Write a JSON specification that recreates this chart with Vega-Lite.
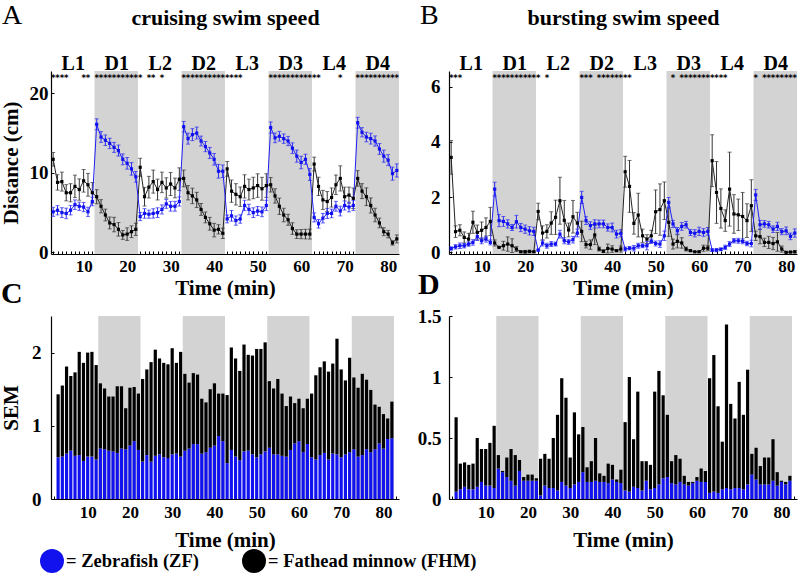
{
"$schema":"https://vega.github.io/schema/vega-lite/v6.json",
"background":"white",
"padding":{"left":0,"top":2,"right":0,"bottom":0},
"datasets":{
"periods":[{"start":12.5,"end":22.5},{"start":32.5,"end":42.5},{"start":52.5,"end":62.5},{"start":72.5,"end":82.5}],
"starsA":[{"t":3},{"t":4},{"t":5},{"t":6},{"t":10},{"t":11},{"t":13},{"t":14},{"t":15},{"t":16},{"t":17},{"t":18},{"t":19},{"t":20},{"t":21},{"t":22},{"t":23},{"t":25},{"t":26},{"t":28},{"t":33},{"t":34},{"t":35},{"t":36},{"t":37},{"t":38},{"t":39},{"t":40},{"t":41},{"t":42},{"t":43},{"t":44},{"t":45},{"t":46},{"t":53},{"t":54},{"t":55},{"t":56},{"t":57},{"t":58},{"t":59},{"t":60},{"t":61},{"t":62},{"t":63},{"t":64},{"t":69},{"t":73},{"t":74},{"t":75},{"t":76},{"t":77},{"t":78},{"t":79},{"t":80},{"t":81},{"t":82}],
"starsB":[{"t":3},{"t":4},{"t":5},{"t":13},{"t":14},{"t":15},{"t":16},{"t":17},{"t":18},{"t":19},{"t":20},{"t":21},{"t":22},{"t":23},{"t":25},{"t":33},{"t":34},{"t":35},{"t":37},{"t":38},{"t":39},{"t":40},{"t":41},{"t":42},{"t":43},{"t":44},{"t":54},{"t":56},{"t":57},{"t":58},{"t":59},{"t":60},{"t":61},{"t":62},{"t":63},{"t":64},{"t":65},{"t":66},{"t":73},{"t":75},{"t":76},{"t":77},{"t":78},{"t":79},{"t":80},{"t":81},{"t":82}],
"cruise":[
{"t":3,"zf":5.1,"zfe":0.57,"fhm":11.7,"fhme":0.86},
{"t":4,"zf":5.3,"zfe":0.58,"fhm":8.8,"fhme":0.97},
{"t":5,"zf":5.0,"zfe":0.62,"fhm":8.9,"fhme":1.19},
{"t":6,"zf":4.9,"zfe":0.66,"fhm":7.5,"fhme":1.02},
{"t":7,"zf":5.3,"zfe":0.59,"fhm":7.5,"fhme":1.14},
{"t":8,"zf":6.0,"zfe":0.60,"fhm":8.3,"fhme":1.41},
{"t":9,"zf":5.8,"zfe":0.52,"fhm":7.9,"fhme":1.34},
{"t":10,"zf":5.7,"zfe":0.58,"fhm":9.0,"fhme":1.42},
{"t":11,"zf":5.1,"zfe":0.58,"fhm":8.5,"fhme":1.43},
{"t":12,"zf":6.4,"zfe":0.54,"fhm":7.5,"fhme":1.29},
{"t":13,"zf":16.1,"zfe":0.69,"fhm":7.0,"fhme":0.89},
{"t":14,"zf":14.5,"zfe":0.68,"fhm":5.8,"fhme":0.83},
{"t":15,"zf":14.1,"zfe":0.66,"fhm":4.7,"fhme":0.74},
{"t":16,"zf":13.7,"zfe":0.65,"fhm":3.7,"fhme":0.75},
{"t":17,"zf":13.2,"zfe":0.63,"fhm":3.5,"fhme":0.91},
{"t":18,"zf":12.8,"zfe":0.69,"fhm":2.9,"fhme":0.85},
{"t":19,"zf":11.7,"zfe":0.68,"fhm":2.2,"fhme":0.56},
{"t":20,"zf":11.2,"zfe":0.73,"fhm":2.3,"fhme":0.79},
{"t":21,"zf":10.5,"zfe":0.79,"fhm":2.6,"fhme":0.74},
{"t":22,"zf":9.5,"zfe":0.67,"fhm":2.9,"fhme":0.77},
{"t":23,"zf":4.5,"zfe":0.51,"fhm":10.7,"fhme":1.13},
{"t":24,"zf":4.9,"zfe":0.60,"fhm":7.0,"fhme":1.17},
{"t":25,"zf":4.8,"zfe":0.51,"fhm":8.2,"fhme":1.36},
{"t":26,"zf":4.9,"zfe":0.59,"fhm":8.9,"fhme":1.45},
{"t":27,"zf":5.0,"zfe":0.61,"fhm":7.9,"fhme":1.31},
{"t":28,"zf":5.4,"zfe":0.57,"fhm":8.8,"fhme":1.29},
{"t":29,"zf":6.1,"zfe":0.56,"fhm":8.1,"fhme":1.28},
{"t":30,"zf":5.8,"zfe":0.61,"fhm":8.6,"fhme":1.45},
{"t":31,"zf":5.8,"zfe":0.62,"fhm":8.1,"fhme":1.24},
{"t":32,"zf":6.4,"zfe":0.58,"fhm":9.2,"fhme":1.43},
{"t":33,"zf":15.8,"zfe":0.66,"fhm":9.3,"fhme":1.05},
{"t":34,"zf":14.3,"zfe":0.69,"fhm":7.5,"fhme":0.90},
{"t":35,"zf":14.8,"zfe":0.75,"fhm":7.1,"fhme":0.97},
{"t":36,"zf":15.0,"zfe":0.75,"fhm":6.6,"fhme":0.95},
{"t":37,"zf":14.0,"zfe":0.62,"fhm":5.4,"fhme":0.75},
{"t":38,"zf":13.3,"zfe":0.64,"fhm":4.4,"fhme":0.68},
{"t":39,"zf":12.5,"zfe":0.70,"fhm":3.6,"fhme":0.80},
{"t":40,"zf":11.7,"zfe":0.73,"fhm":2.8,"fhme":0.85},
{"t":41,"zf":10.2,"zfe":0.86,"fhm":2.9,"fhme":0.58},
{"t":42,"zf":10.2,"zfe":0.79,"fhm":2.4,"fhme":0.65},
{"t":43,"zf":4.2,"zfe":0.49,"fhm":10.5,"fhme":0.93},
{"t":44,"zf":4.6,"zfe":0.67,"fhm":7.7,"fhme":1.40},
{"t":45,"zf":4.0,"zfe":0.58,"fhm":7.3,"fhme":1.34},
{"t":46,"zf":4.2,"zfe":0.53,"fhm":7.0,"fhme":1.22},
{"t":47,"zf":5.9,"zfe":0.65,"fhm":8.3,"fhme":1.46},
{"t":48,"zf":5.4,"zfe":0.66,"fhm":7.9,"fhme":1.31},
{"t":49,"zf":5.0,"zfe":0.61,"fhm":8.1,"fhme":1.35},
{"t":50,"zf":5.2,"zfe":0.57,"fhm":8.4,"fhme":1.48},
{"t":51,"zf":5.1,"zfe":0.61,"fhm":8.0,"fhme":1.44},
{"t":52,"zf":5.9,"zfe":0.65,"fhm":8.4,"fhme":1.49},
{"t":53,"zf":15.7,"zfe":0.70,"fhm":8.5,"fhme":0.91},
{"t":54,"zf":14.4,"zfe":0.61,"fhm":7.1,"fhme":0.90},
{"t":55,"zf":14.6,"zfe":0.61,"fhm":5.8,"fhme":1.03},
{"t":56,"zf":14.3,"zfe":0.59,"fhm":4.7,"fhme":0.85},
{"t":57,"zf":14.0,"zfe":0.58,"fhm":4.1,"fhme":0.69},
{"t":58,"zf":13.1,"zfe":0.67,"fhm":3.0,"fhme":0.73},
{"t":59,"zf":12.1,"zfe":0.76,"fhm":2.3,"fhme":0.55},
{"t":60,"zf":11.3,"zfe":0.79,"fhm":2.3,"fhme":0.58},
{"t":61,"zf":11.7,"zfe":0.64,"fhm":2.3,"fhme":0.60},
{"t":62,"zf":9.8,"zfe":0.75,"fhm":2.3,"fhme":0.62},
{"t":63,"zf":4.4,"zfe":0.57,"fhm":11.1,"fhme":0.87},
{"t":64,"zf":3.6,"zfe":0.54,"fhm":8.3,"fhme":1.15},
{"t":65,"zf":4.3,"zfe":0.60,"fhm":6.6,"fhme":1.20},
{"t":66,"zf":4.9,"zfe":0.63,"fhm":6.4,"fhme":1.25},
{"t":67,"zf":4.9,"zfe":0.54,"fhm":6.9,"fhme":1.20},
{"t":68,"zf":5.8,"zfe":0.62,"fhm":8.5,"fhme":1.23},
{"t":69,"zf":5.2,"zfe":0.61,"fhm":9.3,"fhme":1.58},
{"t":70,"zf":5.9,"zfe":0.57,"fhm":7.0,"fhme":1.20},
{"t":71,"zf":5.7,"zfe":0.61,"fhm":7.2,"fhme":1.01},
{"t":72,"zf":5.9,"zfe":0.64,"fhm":6.8,"fhme":1.29},
{"t":73,"zf":16.3,"zfe":0.68,"fhm":9.3,"fhme":0.98},
{"t":74,"zf":15.1,"zfe":0.58,"fhm":7.7,"fhme":0.94},
{"t":75,"zf":14.5,"zfe":0.60,"fhm":7.0,"fhme":1.11},
{"t":76,"zf":14.3,"zfe":0.68,"fhm":5.9,"fhme":0.95},
{"t":77,"zf":14.0,"zfe":0.64,"fhm":4.7,"fhme":0.85},
{"t":78,"zf":13.0,"zfe":0.68,"fhm":3.7,"fhme":0.61},
{"t":79,"zf":12.1,"zfe":0.76,"fhm":2.6,"fhme":0.50},
{"t":80,"zf":11.6,"zfe":0.69,"fhm":2.3,"fhme":0.47},
{"t":81,"zf":9.9,"zfe":0.82,"fhm":1.2,"fhme":0.28},
{"t":82,"zf":10.3,"zfe":0.83,"fhm":1.7,"fhme":0.50}
],
"burst":[
{"t":3,"zf":0.14,"zfe":0.06,"fhm":3.44,"fhme":0.61},
{"t":4,"zf":0.20,"zfe":0.08,"fhm":0.75,"fhme":0.21},
{"t":5,"zf":0.24,"zfe":0.10,"fhm":0.80,"fhme":0.20},
{"t":6,"zf":0.24,"zfe":0.08,"fhm":0.54,"fhme":0.20},
{"t":7,"zf":0.30,"zfe":0.08,"fhm":0.48,"fhme":0.21},
{"t":8,"zf":0.36,"zfe":0.10,"fhm":1.09,"fhme":0.40},
{"t":9,"zf":0.57,"zfe":0.14,"fhm":0.72,"fhme":0.27},
{"t":10,"zf":0.42,"zfe":0.11,"fhm":0.80,"fhme":0.30},
{"t":11,"zf":0.48,"zfe":0.11,"fhm":0.90,"fhme":0.35},
{"t":12,"zf":0.36,"zfe":0.09,"fhm":1.12,"fhme":0.51},
{"t":13,"zf":2.29,"zfe":0.25,"fhm":0.34,"fhme":0.11},
{"t":14,"zf":1.15,"zfe":0.22,"fhm":0.18,"fhme":0.01},
{"t":15,"zf":1.12,"zfe":0.18,"fhm":0.24,"fhme":0.16},
{"t":16,"zf":1.03,"zfe":0.15,"fhm":0.30,"fhme":0.26},
{"t":17,"zf":0.90,"zfe":0.11,"fhm":0.24,"fhme":0.25},
{"t":18,"zf":1.11,"zfe":0.23,"fhm":0.12,"fhme":0.09},
{"t":19,"zf":0.90,"zfe":0.15,"fhm":0.02,"fhme":0.03},
{"t":20,"zf":0.84,"zfe":0.15,"fhm":0.02,"fhme":0.05},
{"t":21,"zf":0.78,"zfe":0.15,"fhm":0.03,"fhme":0.05},
{"t":22,"zf":0.76,"zfe":0.15,"fhm":0.02,"fhme":0.02},
{"t":23,"zf":0.08,"zfe":0.03,"fhm":1.48,"fhme":0.30},
{"t":24,"zf":0.34,"zfe":0.11,"fhm":0.70,"fhme":0.26},
{"t":25,"zf":0.24,"zfe":0.09,"fhm":0.76,"fhme":0.24},
{"t":26,"zf":0.30,"zfe":0.09,"fhm":1.06,"fhme":0.41},
{"t":27,"zf":0.30,"zfe":0.07,"fhm":1.27,"fhme":0.62},
{"t":28,"zf":0.66,"zfe":0.14,"fhm":1.87,"fhme":0.85},
{"t":29,"zf":0.42,"zfe":0.11,"fhm":1.16,"fhme":0.72},
{"t":30,"zf":0.38,"zfe":0.09,"fhm":0.81,"fhme":0.25},
{"t":31,"zf":0.46,"zfe":0.12,"fhm":1.29,"fhme":0.59},
{"t":32,"zf":0.70,"zfe":0.14,"fhm":1.06,"fhme":0.39},
{"t":33,"zf":1.99,"zfe":0.22,"fhm":0.76,"fhme":0.37},
{"t":34,"zf":1.15,"zfe":0.14,"fhm":0.28,"fhme":0.12},
{"t":35,"zf":0.97,"zfe":0.14,"fhm":0.28,"fhme":0.17},
{"t":36,"zf":1.03,"zfe":0.15,"fhm":0.63,"fhme":0.35},
{"t":37,"zf":1.03,"zfe":0.14,"fhm":0.12,"fhme":0.07},
{"t":38,"zf":1.03,"zfe":0.14,"fhm":0.04,"fhme":0.05},
{"t":39,"zf":0.90,"zfe":0.13,"fhm":0.14,"fhme":0.16},
{"t":40,"zf":0.90,"zfe":0.16,"fhm":0.12,"fhme":0.12},
{"t":41,"zf":0.66,"zfe":0.14,"fhm":0.06,"fhme":0.02},
{"t":42,"zf":0.69,"zfe":0.13,"fhm":0.12,"fhme":0.11},
{"t":43,"zf":0.12,"zfe":0.07,"fhm":2.92,"fhme":0.56},
{"t":44,"zf":0.15,"zfe":0.06,"fhm":2.39,"fhme":0.94},
{"t":45,"zf":0.15,"zfe":0.10,"fhm":1.05,"fhme":0.39},
{"t":46,"zf":0.24,"zfe":0.09,"fhm":1.35,"fhme":0.79},
{"t":47,"zf":0.24,"zfe":0.07,"fhm":0.60,"fhme":0.24},
{"t":48,"zf":0.24,"zfe":0.15,"fhm":0.48,"fhme":0.16},
{"t":49,"zf":0.40,"zfe":0.08,"fhm":0.60,"fhme":0.20},
{"t":50,"zf":0.32,"zfe":0.09,"fhm":1.47,"fhme":0.79},
{"t":51,"zf":0.30,"zfe":0.12,"fhm":1.55,"fhme":0.93},
{"t":52,"zf":0.60,"zfe":0.17,"fhm":1.87,"fhme":0.68},
{"t":53,"zf":1.81,"zfe":0.18,"fhm":1.09,"fhme":0.51},
{"t":54,"zf":1.03,"zfe":0.13,"fhm":0.30,"fhme":0.18},
{"t":55,"zf":0.78,"zfe":0.12,"fhm":0.40,"fhme":0.24},
{"t":56,"zf":0.94,"zfe":0.14,"fhm":0.34,"fhme":0.19},
{"t":57,"zf":1.00,"zfe":0.12,"fhm":0.12,"fhme":0.07},
{"t":58,"zf":0.72,"zfe":0.11,"fhm":0.06,"fhme":0.03},
{"t":59,"zf":0.69,"zfe":0.13,"fhm":0.02,"fhme":0.01},
{"t":60,"zf":0.76,"zfe":0.15,"fhm":0.02,"fhme":0.03},
{"t":61,"zf":0.72,"zfe":0.14,"fhm":0.15,"fhme":0.11},
{"t":62,"zf":0.76,"zfe":0.14,"fhm":0.15,"fhme":0.09},
{"t":63,"zf":0.08,"zfe":0.05,"fhm":3.32,"fhme":0.94},
{"t":64,"zf":0.08,"zfe":0.06,"fhm":2.17,"fhme":1.12},
{"t":65,"zf":0.11,"zfe":0.05,"fhm":1.59,"fhme":0.71},
{"t":66,"zf":0.18,"zfe":0.08,"fhm":1.15,"fhme":0.39},
{"t":67,"zf":0.30,"zfe":0.09,"fhm":2.29,"fhme":1.34},
{"t":68,"zf":0.42,"zfe":0.08,"fhm":1.39,"fhme":0.70},
{"t":69,"zf":0.42,"zfe":0.09,"fhm":1.36,"fhme":0.57},
{"t":70,"zf":0.40,"zfe":0.09,"fhm":1.30,"fhme":0.87},
{"t":71,"zf":0.32,"zfe":0.08,"fhm":1.15,"fhme":0.61},
{"t":72,"zf":0.32,"zfe":0.12,"fhm":1.69,"fhme":0.94},
{"t":73,"zf":2.08,"zfe":0.20,"fhm":0.60,"fhme":0.17},
{"t":74,"zf":1.00,"zfe":0.16,"fhm":0.57,"fhme":0.26},
{"t":75,"zf":1.03,"zfe":0.12,"fhm":0.36,"fhme":0.15},
{"t":76,"zf":1.00,"zfe":0.12,"fhm":0.36,"fhme":0.22},
{"t":77,"zf":0.84,"zfe":0.12,"fhm":0.32,"fhme":0.22},
{"t":78,"zf":0.94,"zfe":0.15,"fhm":0.38,"fhme":0.34},
{"t":79,"zf":0.75,"zfe":0.11,"fhm":0.12,"fhme":0.11},
{"t":80,"zf":0.78,"zfe":0.14,"fhm":0.00,"fhme":0.01},
{"t":81,"zf":0.58,"zfe":0.12,"fhm":0.01,"fhme":0.02},
{"t":82,"zf":0.70,"zfe":0.15,"fhm":0.02,"fhme":0.04}
]
},
"columns":2,
"bounds":"flush",
"spacing":{"row":62,"column":50},
"resolve":{"scale":{"color":"shared"}},
"concat":[
{
"width":348,"height":183,
"title":{"text":"A","anchor":"start","frame":"group","dx":-49,"offset":-46,"fontSize":28,"fontWeight":"normal","baseline":"alphabetic"},
"layer":[
{"data":{"name":"periods"},"mark":{"type":"rect","color":"#d3d3d3"},
 "encoding":{"x":{"field":"start","type":"quantitative","scale":{"domain":[2.5,82.5],"nice":false,"zero":false},
   "axis":{"orient":"bottom","tickCount":80,"labelExpr":"datum.value % 10 == 0 ? datum.label : ''","tickSize":-3,"labelPadding":7,"labelOverlap":false,"labelFlush":false,"title":"Time (min)","titlePadding":3}},
  "x2":{"field":"end"}}},
{"data":{"name":"starsA"},"mark":{"type":"text","text":"*","fontSize":8.5,"fontWeight":"bold","baseline":"middle","color":"#000","font":"DejaVu Sans"},
 "encoding":{"x":{"field":"t","type":"quantitative",
   "axis":{"orient":"top","values":[7.5,17.5,27.5,37.5,47.5,57.5,67.5,77.5],"labelExpr":"(datum.value % 20 < 10 ? 'L' : 'D') + ceil(datum.value/20)","ticks":false,"domain":false,"labelFontSize":20,"labelBaseline":"alphabetic","labelPadding":2,"labelOverlap":false,"labelFlush":false,"title":"cruising swim speed","titleFontSize":22,"titlePadding":24}},
  "y":{"datum":21.9,"type":"quantitative","title":"Distance (cm)","scale":{"domain":[-0.2,22.8],"nice":false,"zero":false}}}},
{"data":{"name":"cruise"},"mark":{"type":"errorbar","color":"#333","ticks":{"size":4}},
 "encoding":{"x":{"field":"t","type":"quantitative","axis":null},"y":{"field":"fhm","type":"quantitative","title":"Distance (cm)"},"yError":{"field":"fhme"}}},
{"data":{"name":"cruise"},"mark":{"type":"errorbar","color":"#2a2af5","ticks":{"size":4}},
 "encoding":{"x":{"field":"t","type":"quantitative","axis":null},"y":{"field":"zf","type":"quantitative","title":"Distance (cm)"},"yError":{"field":"zfe"}}},
{"data":{"name":"cruise"},"mark":{"type":"line","color":"#222","strokeWidth":1},
 "encoding":{"x":{"field":"t","type":"quantitative","axis":null},"y":{"field":"fhm","type":"quantitative","title":"Distance (cm)","axis":{"values":[0,10,20],"tickSize":-3,"labelPadding":6,"labelFontSize":19,"title":"Distance (cm)","titleFontSize":21,"titlePadding":8}}}},
{"data":{"name":"cruise"},"mark":{"type":"line","color":"#2020f5","strokeWidth":1},
 "encoding":{"x":{"field":"t","type":"quantitative","axis":null},"y":{"field":"zf","type":"quantitative","title":"Distance (cm)"}}},
{"data":{"name":"cruise"},"mark":{"type":"square","color":"#000","size":10,"opacity":1},
 "encoding":{"x":{"field":"t","type":"quantitative","axis":null},"y":{"field":"fhm","type":"quantitative","title":"Distance (cm)"}}},
{"data":{"name":"cruise"},"mark":{"type":"square","color":"#1010f0","size":10,"opacity":1},
 "encoding":{"x":{"field":"t","type":"quantitative","axis":null},"y":{"field":"zf","type":"quantitative","title":"Distance (cm)"}}}
]
},
{
"width":348,"height":183,
"title":{"text":"B","anchor":"start","frame":"group","dx":-29,"offset":-46,"fontSize":28,"fontWeight":"normal","baseline":"alphabetic"},
"layer":[
{"data":{"name":"periods"},"mark":{"type":"rect","color":"#d3d3d3"},
 "encoding":{"x":{"field":"start","type":"quantitative","scale":{"domain":[2.5,82.5],"nice":false,"zero":false},
   "axis":{"orient":"bottom","tickCount":80,"labelExpr":"datum.value % 10 == 0 ? datum.label : ''","tickSize":-3,"labelPadding":7,"labelOverlap":false,"labelFlush":false,"title":"Time (min)","titlePadding":3}},
  "x2":{"field":"end"}}},
{"data":{"name":"starsB"},"mark":{"type":"text","text":"*","fontSize":8.5,"fontWeight":"bold","baseline":"middle","color":"#000","font":"DejaVu Sans"},
 "encoding":{"x":{"field":"t","type":"quantitative",
   "axis":{"orient":"top","values":[7.5,17.5,27.5,37.5,47.5,57.5,67.5,77.5],"labelExpr":"(datum.value % 20 < 10 ? 'L' : 'D') + ceil(datum.value/20)","ticks":false,"domain":false,"labelFontSize":20,"labelBaseline":"alphabetic","labelPadding":2,"labelOverlap":false,"labelFlush":false,"title":"bursting swim speed","titleFontSize":22,"titlePadding":24}},
  "y":{"datum":6.32,"type":"quantitative","scale":{"domain":[-0.06,6.57],"nice":false,"zero":false}}}},
{"data":{"name":"burst"},"mark":{"type":"errorbar","color":"#333","ticks":{"size":4}},
 "encoding":{"x":{"field":"t","type":"quantitative","axis":null},"y":{"field":"fhm","type":"quantitative"},"yError":{"field":"fhme"}}},
{"data":{"name":"burst"},"mark":{"type":"errorbar","color":"#2a2af5","ticks":{"size":4}},
 "encoding":{"x":{"field":"t","type":"quantitative","axis":null},"y":{"field":"zf","type":"quantitative"},"yError":{"field":"zfe"}}},
{"data":{"name":"burst"},"mark":{"type":"line","color":"#222","strokeWidth":1},
 "encoding":{"x":{"field":"t","type":"quantitative","axis":null},"y":{"field":"fhm","type":"quantitative","axis":{"values":[0,2,4,6],"tickSize":-3,"labelPadding":12,"labelFontSize":19,"title":null}}}},
{"data":{"name":"burst"},"mark":{"type":"line","color":"#2020f5","strokeWidth":1},
 "encoding":{"x":{"field":"t","type":"quantitative","axis":null},"y":{"field":"zf","type":"quantitative"}}},
{"data":{"name":"burst"},"mark":{"type":"square","color":"#000","size":10,"opacity":1},
 "encoding":{"x":{"field":"t","type":"quantitative","axis":null},"y":{"field":"fhm","type":"quantitative"}}},
{"data":{"name":"burst"},"mark":{"type":"square","color":"#1010f0","size":10,"opacity":1},
 "encoding":{"x":{"field":"t","type":"quantitative","axis":null},"y":{"field":"zf","type":"quantitative"}}}
]
},
{
"width":348,"height":183,
"title":{"text":"C","anchor":"start","frame":"group","dx":-50,"offset":-16.5,"fontSize":30,"fontWeight":"bold","baseline":"alphabetic"},
"layer":[
{"data":{"name":"periods"},"mark":{"type":"rect","color":"#d3d3d3"},
 "encoding":{"x":{"field":"start","type":"quantitative","title":"Time (min)","scale":{"domain":[2.5,82.5],"nice":false,"zero":false},
   "axis":{"orient":"bottom","tickCount":80,"labelExpr":"datum.value % 10 == 0 ? datum.label : ''","tickSize":-3,"labelPadding":8,"labelOverlap":false,"labelFlush":false,"title":"Time (min)","titlePadding":9}},
  "x2":{"field":"end"}}},
{"data":{"name":"cruise"},"transform":[{"fold":["zfe","fhme"],"as":["sp","sem"]}],
 "mark":{"type":"bar","width":3.2},
 "encoding":{"x":{"field":"t","type":"quantitative","title":"Time (min)"},
  "y":{"field":"sem","type":"quantitative","stack":"zero","scale":{"domain":[0,2.5],"nice":false},"axis":{"values":[0,1,2],"tickSize":-3,"labelPadding":13,"labelFontSize":19,"title":"SEM","titleFontSize":21,"titlePadding":10.5}},
  "color":{"field":"sp","type":"nominal","scale":{"domain":["zfe","fhme"],"range":["#1212ee","#000000"]},
   "legend":{"orient":"none","legendX":-11,"legendY":478,"direction":"horizontal","title":null,"symbolType":"circle","symbolSize":576,"symbolStrokeWidth":0,"labelFont":"Liberation Serif","labelFontWeight":"bold","labelFontSize":18.5,"labelColor":"#000","labelLimit":400,"labelOffset":2,"columnPadding":43,"labelExpr":"datum.value == 'zfe' ? '= Zebrafish (ZF)' : '= Fathead minnow (FHM)'"}},
  "order":{"field":"sp","sort":"descending"}}}
]
},
{
"width":348,"height":183,
"title":{"text":"D","anchor":"start","frame":"group","dx":-31,"offset":-16.5,"fontSize":30,"fontWeight":"bold","baseline":"alphabetic"},
"layer":[
{"data":{"name":"periods"},"mark":{"type":"rect","color":"#d3d3d3"},
 "encoding":{"x":{"field":"start","type":"quantitative","title":"Time (min)","scale":{"domain":[2.5,82.5],"nice":false,"zero":false},
   "axis":{"orient":"bottom","tickCount":80,"labelExpr":"datum.value % 10 == 0 ? datum.label : ''","tickSize":-3,"labelPadding":8,"labelOverlap":false,"labelFlush":false,"title":"Time (min)","titlePadding":9}},
  "x2":{"field":"end"}}},
{"data":{"name":"burst"},"transform":[{"fold":["zfe","fhme"],"as":["sp","sem"]}],
 "mark":{"type":"bar","width":3.2},
 "encoding":{"x":{"field":"t","type":"quantitative","title":"Time (min)"},
  "y":{"field":"sem","type":"quantitative","stack":"zero","scale":{"domain":[0,1.5],"nice":false},"axis":{"values":[0,0.5,1,1.5],"format":"~g","tickSize":-3,"labelPadding":11,"labelFontSize":19,"title":null}},
  "color":{"field":"sp","type":"nominal","scale":{"domain":["zfe","fhme"],"range":["#1212ee","#000000"]},"legend":null},
  "order":{"field":"sp","sort":"descending"}}}
]
}
],
"config":{
 "view":{"stroke":null},
 "font":"Liberation Serif",
 "axis":{"labelFont":"Liberation Serif","labelFontWeight":"bold","labelFontSize":17,"labelColor":"#000","titleFont":"Liberation Serif","titleFontWeight":"bold","titleFontSize":21,"titleColor":"#000","domainColor":"#000","domainWidth":1.2,"tickColor":"#000","grid":false},
 "title":{"font":"Liberation Serif","color":"#000"}
}
}
